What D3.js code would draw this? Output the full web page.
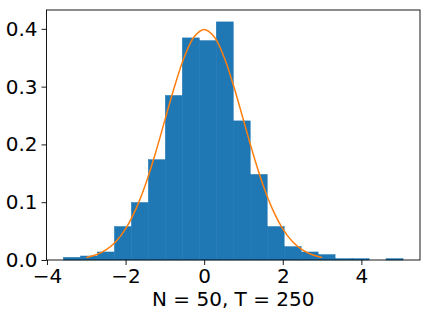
<!DOCTYPE html>
<html>
<head>
<meta charset="utf-8">
<script src="https://cdn.jsdelivr.net/npm/d3@7"></script>
<style>
  html, body { margin: 0; padding: 0; background: #fff; }
  svg text { font-family: "DejaVu Sans", sans-serif; fill: #000; }
</style>
</head>
<body>
<svg id="chart" width="431" height="316"></svg>
<script>
// Histogram bins (left edges), common bin width, density heights
const binStart = -3.58;
const binWidth = 0.432;
const densities = [0.0046, 0.0069, 0.0139, 0.0579, 0.0995, 0.1736, 0.2847, 0.3843, 0.3796, 0.4120,
                   0.2407, 0.1481, 0.0579, 0.0231, 0.0139, 0.0093, 0.0023, 0.0023, 0.0, 0.0023];
// Orange curve points
const curveX = [-3, -2.75, -2.5, -2.25, -2, -1.75, -1.5, -1.25, -1, -0.75, -0.5, -0.25, 0,
                0.25, 0.5, 0.75, 1, 1.25, 1.5, 1.75, 2, 2.25, 2.5, 2.75, 3];
const curveY = [0.0044, 0.0091, 0.0175, 0.0317, 0.0540, 0.0863, 0.1295, 0.1826, 0.2420, 0.3011, 0.3521, 0.3867, 0.3989,
                0.3867, 0.3521, 0.3011, 0.2420, 0.1826, 0.1295, 0.0863, 0.0540, 0.0317, 0.0175, 0.0091, 0.0044];
const xTicks = [-4, -2, 0, 2, 4];
const yTicks = [0.0, 0.1, 0.2, 0.3, 0.4];
const xLabel = "N = 50, T = 250";

const svg = d3.select("#chart");
const m = { left: 46.5, right: 420, top: 10, bottom: 260 };

const bins = densities.map((d, i) => ({ x0: binStart + i * binWidth, x1: binStart + (i + 1) * binWidth, y: d }));
const dataMin = bins[0].x0, dataMax = bins[bins.length - 1].x1;
const pad = (dataMax - dataMin) * 0.05;
const yMax = d3.max(densities) * 1.05;

const x = d3.scaleLinear().domain([dataMin - pad, dataMax + pad]).range([m.left, m.right]);
const y = d3.scaleLinear().domain([0, yMax]).range([m.bottom, m.top]);

svg.append("g").selectAll("rect").data(bins.filter(b => b.y > 0)).join("rect")
  .attr("x", d => x(d.x0))
  .attr("width", d => x(d.x1) - x(d.x0))
  .attr("y", d => y(d.y))
  .attr("height", d => y(0) - y(d.y))
  .attr("fill", "#1f77b4")
  .attr("stroke", "#1f77b4")
  .attr("stroke-width", 0.5);

const pts = curveX.map((v, i) => [v, curveY[i]]);
svg.append("path")
  .datum(pts)
  .attr("fill", "none")
  .attr("stroke", "#ff7f0e")
  .attr("stroke-width", 1.5)
  .attr("d", d3.line().x(d => x(d[0])).y(d => y(d[1])).curve(d3.curveCatmullRom.alpha(0.5)));

const fmtX = d => (d < 0 ? "\u2212" + Math.abs(d) : String(d));
const xAxis = svg.append("g").attr("transform", `translate(0,${m.bottom})`)
  .call(d3.axisBottom(x).tickValues(xTicks).tickFormat(fmtX).tickSize(5).tickPadding(4));
const yAxis = svg.append("g").attr("transform", `translate(${m.left},0)`)
  .call(d3.axisLeft(y).tickValues(yTicks).tickFormat(d3.format(".1f")).tickSize(5).tickPadding(4));

[xAxis, yAxis].forEach(g => {
  g.select(".domain").remove();
  g.selectAll("line").attr("stroke", "#000").attr("stroke-width", 0.9);
  g.selectAll("text").attr("font-size", 20).attr("font-family", "DejaVu Sans").attr("fill", "#000");
});

svg.append("rect")
  .attr("x", m.left).attr("y", m.top)
  .attr("width", m.right - m.left).attr("height", m.bottom - m.top)
  .attr("fill", "none").attr("stroke", "#000").attr("stroke-width", 0.9);

svg.append("text")
  .attr("x", (m.left + m.right) / 2)
  .attr("y", 306)
  .attr("text-anchor", "middle")
  .attr("font-size", 20)
  .text(xLabel);
</script>
</body>
</html>
